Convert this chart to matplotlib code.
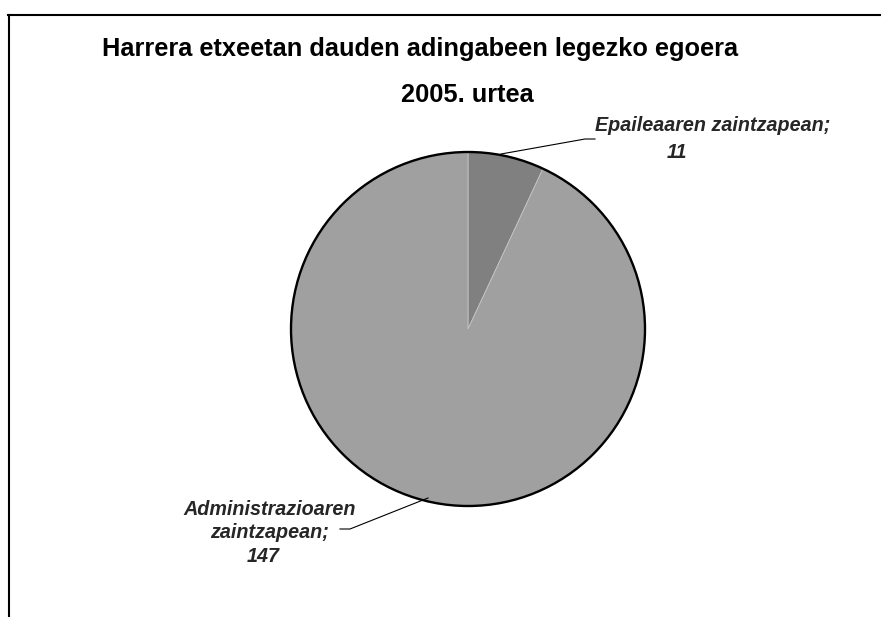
import matplotlib
matplotlib.use("Agg")
import matplotlib.pyplot as plt
from matplotlib.patches import Circle
from matplotlib.lines import Line2D

plt.rcParams['font.family'] = ['Liberation Sans', 'DejaVu Sans']

# Data
categories = ["Epaileaaren zaintzapean", "Administrazioaren zaintzapean"]
values = [11, 147]
colors = ["#808080", "#a0a0a0"]
title_line1 = "Harrera etxeetan dauden adingabeen legezko egoera"
title_line2 = "2005. urtea"

W, H = 881, 617
fig = plt.figure(figsize=(W / 100, H / 100), dpi=100)
ax = fig.add_axes([0, 0, 1, 1])

def Y(y):
    return H - y

cx, cy, r = 468, Y(329), 177
ax.pie(values, colors=colors, startangle=90, counterclock=False,
       center=(cx, cy), radius=r,
       wedgeprops=dict(edgecolor="#c4c4c4", linewidth=0.6))
ax.add_patch(Circle((cx, cy), r, fill=False, edgecolor="black", linewidth=1.7, zorder=5))

ax.set_xlim(0, W)
ax.set_ylim(0, H)
ax.set_aspect('equal', adjustable='box')
ax.axis('off')

# Titles
ax.text(420, Y(56), title_line1, ha='center', va='baseline', fontsize=18.3,
        fontweight='bold', color='black')
ax.text(467, Y(102), title_line2, ha='center', va='baseline', fontsize=18.3,
        fontweight='bold', color='black')

lab_kw = dict(fontsize=14.2, fontweight='bold', fontstyle='italic', color='#262626', va='baseline')

# Label for slice 0
ax.text(713, Y(131), categories[0] + ";", ha='center', **lab_kw)
ax.text(677, Y(158), str(values[0]), ha='center', **lab_kw)
ax.plot([501, 585, 595], [Y(154), Y(139), Y(139)], color='black', lw=0.8)

# Label for slice 1
w1, w2 = categories[1].split()
ax.text(270, Y(515), w1, ha='center', **lab_kw)
ax.text(270, Y(538), w2 + ";", ha='center', **lab_kw)
ax.text(263, Y(562), str(values[1]), ha='center', **lab_kw)
ax.plot([340, 350, 428], [Y(529), Y(529), Y(498)], color='black', lw=0.8)

# Chart border (top and left visible)
fig.add_artist(Line2D([8 / W, 1.0], [Y(15) / H, Y(15) / H], color='black', lw=1.5))
fig.add_artist(Line2D([9 / W, 9 / W], [Y(15) / H, 0.0], color='black', lw=1.5))

fig.savefig("out.png", dpi=100)
